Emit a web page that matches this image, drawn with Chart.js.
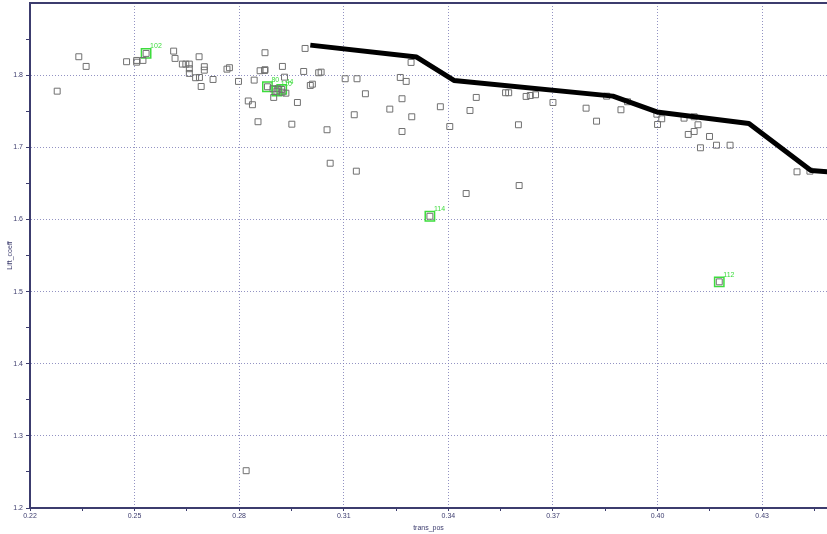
<!DOCTYPE html>
<html>
<head>
<meta charset="utf-8">
<script src="https://cdn.jsdelivr.net/npm/chart.js@4"></script>
<style>
  html, body { margin: 0; padding: 0; background: #ffffff; }
  canvas { display: block; }
</style>
</head>
<body>
<canvas id="liftChart" width="827" height="534"></canvas>
<script>
// Design samples: transition position vs. lift coefficient
const transPos = [
  0.2278, 0.2340, 0.2361, 0.2477, 0.2506, 0.2506, 0.2524, 0.2533, 0.2612, 0.2616,
  0.2637, 0.2647, 0.2657, 0.2657, 0.2657, 0.2685, 0.2675, 0.2686, 0.2691, 0.2700,
  0.2700, 0.2725, 0.2765, 0.2772, 0.2798, 0.2826, 0.2838, 0.2843, 0.2854, 0.2860,
  0.2873, 0.2874, 0.2874, 0.2881, 0.2899, 0.2897, 0.2908, 0.2911, 0.2922, 0.2923,
  0.2934, 0.2924, 0.2930, 0.2951, 0.2967, 0.2985, 0.2989, 0.3004, 0.3010, 0.3028,
  0.3035, 0.3052, 0.3061, 0.3104, 0.3130, 0.3136, 0.3138, 0.3162, 0.3232, 0.3262,
  0.3267, 0.3267, 0.3279, 0.3293, 0.3295, 0.3347, 0.3377, 0.3404, 0.3451, 0.3462,
  0.3480, 0.3564, 0.3573, 0.3601, 0.3603, 0.3623, 0.3635, 0.3650, 0.3700, 0.3795,
  0.3825, 0.3854, 0.3895, 0.3914, 0.3998, 0.4000, 0.4012, 0.4076, 0.4105, 0.4116,
  0.4088, 0.4105, 0.4149, 0.4123, 0.4169, 0.4208, 0.4177, 0.4400, 0.4437, 0.2820
];
const liftCoeff = [
  1.7778, 1.8255, 1.8121, 1.8186, 1.8204, 1.8180, 1.8204, 1.8301, 1.8333, 1.8232,
  1.8153, 1.8153, 1.8153, 1.8089, 1.8024, 1.8255, 1.7964, 1.7968, 1.7843, 1.8117,
  1.8069, 1.7940, 1.8083, 1.8103, 1.7913, 1.7642, 1.7590, 1.7931, 1.7354, 1.8061,
  1.8065, 1.8075, 1.8311, 1.7839, 1.7691, 1.7811, 1.7778, 1.7811, 1.7802, 1.7764,
  1.7750, 1.8121, 1.7972, 1.7320, 1.7621, 1.8051, 1.8370, 1.7857, 1.7875, 1.8033,
  1.8042, 1.7243, 1.6779, 1.7950, 1.7451, 1.6669, 1.7950, 1.7742, 1.7529, 1.7968,
  1.7673, 1.7219, 1.7913, 1.8176, 1.7423, 1.6044, 1.7562, 1.7288, 1.6359, 1.7510,
  1.7691, 1.7756, 1.7756, 1.7312, 1.6470, 1.7705, 1.7718, 1.7728, 1.7621, 1.7542,
  1.7362, 1.7709, 1.7520, 1.7631, 1.7459, 1.7316, 1.7395, 1.7404, 1.7423, 1.7312,
  1.7178, 1.7219, 1.7150, 1.6993, 1.7029, 1.7029, 1.5135, 1.6660, 1.6669, 1.2517
];

// Trade-off front
const frontX = [0.3004, 0.3309, 0.3416, 0.3872, 0.3998, 0.4262, 0.4440, 0.4520];
const frontY = [1.8416, 1.8250, 1.7926, 1.7709, 1.7490, 1.7330, 1.6678, 1.6650];

// Selected designs
const tagNames = ['102', '80', '110', '44', '114', '112'];
const tagX = [0.2533, 0.2881, 0.2908, 0.2922, 0.3347, 0.4177];
const tagY = [1.8301, 1.7839, 1.7778, 1.7802, 1.6044, 1.5135];

// Axis ticks
const xMajor = [0.22, 0.25, 0.28, 0.31, 0.34, 0.37, 0.40, 0.43];
const xMinor = [0.235, 0.265, 0.295, 0.325, 0.355, 0.385, 0.415, 0.445];
const yMajor = [1.2, 1.3, 1.4, 1.5, 1.6, 1.7, 1.8];
const yMinor = [1.25, 1.35, 1.45, 1.55, 1.65, 1.75, 1.85];

const axisColor = '#3c3c6e';
const gridColor = 'rgba(120, 120, 180, 0.8)';
const tagColor = '#3ddc3d';
const fontFamily = '"Liberation Sans", Arial, sans-serif';

function isMajor(list, v) {
  return list.some(m => Math.abs(m - v) < 1e-6);
}

function tickSet(major, minor) {
  return major.concat(minor).sort((a, b) => a - b).map(v => ({ value: v }));
}

const tagLabels = {
  id: 'tagLabels',
  afterDatasetsDraw(chart) {
    const meta = chart.getDatasetMeta(2);
    const ctx = chart.ctx;
    ctx.save();
    ctx.fillStyle = tagColor;
    ctx.font = '7px ' + fontFamily;
    meta.data.forEach((pt, i) => {
      ctx.fillText(tagNames[i], pt.x + 4, pt.y - 5);
    });
    ctx.restore();
  }
};

// solid axis frame: left, bottom and top edges of the plot
const axisFrame = {
  id: 'axisFrame',
  afterDraw(chart) {
    const a = chart.chartArea;
    const ctx = chart.ctx;
    ctx.save();
    ctx.strokeStyle = axisColor;
    ctx.lineWidth = 2;
    ctx.setLineDash([]);
    ctx.beginPath();
    ctx.moveTo(a.right, a.top);
    ctx.lineTo(a.left, a.top);
    ctx.lineTo(a.left, a.bottom);
    ctx.lineTo(a.right, a.bottom);
    ctx.stroke();
    ctx.restore();
  }
};

const ctx = document.getElementById('liftChart').getContext('2d');

new Chart(ctx, {
  type: 'scatter',
  data: {
    datasets: [
      {
        type: 'line',
        label: 'front',
        data: frontX.map((x, i) => ({ x: x, y: frontY[i] })),
        borderColor: '#000000',
        borderWidth: 5,
        borderJoinStyle: 'round',
        pointRadius: 0,
        tension: 0,
        fill: false,
        order: 0
      },
      {
        label: 'designs',
        data: transPos.map((x, i) => ({ x: x, y: liftCoeff[i] })),
        pointStyle: 'rect',
        pointRadius: 4.2,
        pointBorderColor: '#707070',
        pointBackgroundColor: 'rgba(255,255,255,0)',
        pointBorderWidth: 1,
        order: 1
      },
      {
        label: 'selected',
        data: tagX.map((x, i) => ({ x: x, y: tagY[i] })),
        pointStyle: 'rect',
        pointRadius: 6.6,
        pointBorderColor: tagColor,
        pointBackgroundColor: 'rgba(255,255,255,0)',
        pointBorderWidth: 1.5,
        order: 2
      }
    ]
  },
  options: {
    responsive: false,
    animation: false,
    layout: { autoPadding: false, padding: { top: 3, right: 0, left: 0, bottom: 0 } },
    plugins: {
      legend: { display: false },
      tooltip: { enabled: false }
    },
    scales: {
      x: {
        type: 'linear',
        min: 0.22,
        max: 0.4486,
        afterBuildTicks: scale => { scale.ticks = tickSet(xMajor, xMinor); },
        afterFit: scale => {
          scale.height = 26;
          scale.paddingLeft = 0;
          scale.paddingRight = 0;
        },
        border: { color: axisColor, width: 2, dash: [1, 2] },
        grid: {
          color: c => (c.tick && isMajor(xMajor, c.tick.value) ? gridColor : 'rgba(0,0,0,0)'),
          tickColor: axisColor,
          tickBorderDash: [],
          tickLength: 3,
          lineWidth: 1
        },
        ticks: {
          autoSkip: false,
          maxRotation: 0,
          padding: 1,
          color: axisColor,
          font: { family: fontFamily, size: 7 },
          callback: v => (isMajor(xMajor, v) ? v.toFixed(2) : '')
        },
        title: {
          display: true,
          text: 'trans_pos',
          color: axisColor,
          font: { family: fontFamily, size: 7 },
          padding: { top: 0, bottom: 2 }
        }
      },
      y: {
        type: 'linear',
        min: 1.2,
        max: 1.9,
        afterBuildTicks: scale => { scale.ticks = tickSet(yMajor, yMinor); },
        afterFit: scale => {
          scale.width = 30;
          scale.paddingTop = 0;
          scale.paddingBottom = 0;
        },
        border: { color: axisColor, width: 2, dash: [1, 2] },
        grid: {
          color: c => (c.tick && isMajor(yMajor, c.tick.value) ? gridColor : 'rgba(0,0,0,0)'),
          tickColor: axisColor,
          tickBorderDash: [],
          tickLength: 4,
          lineWidth: 1
        },
        ticks: {
          autoSkip: false,
          padding: 3,
          color: axisColor,
          font: { family: fontFamily, size: 7 },
          callback: v => (isMajor(yMajor, v) ? v.toFixed(1) : '')
        },
        title: {
          display: true,
          text: 'Lift_coeff',
          color: axisColor,
          font: { family: fontFamily, size: 7 },
          padding: { top: 6, bottom: 0 }
        }
      }
    }
  },
  plugins: [tagLabels, axisFrame]
});
</script>
</body>
</html>
